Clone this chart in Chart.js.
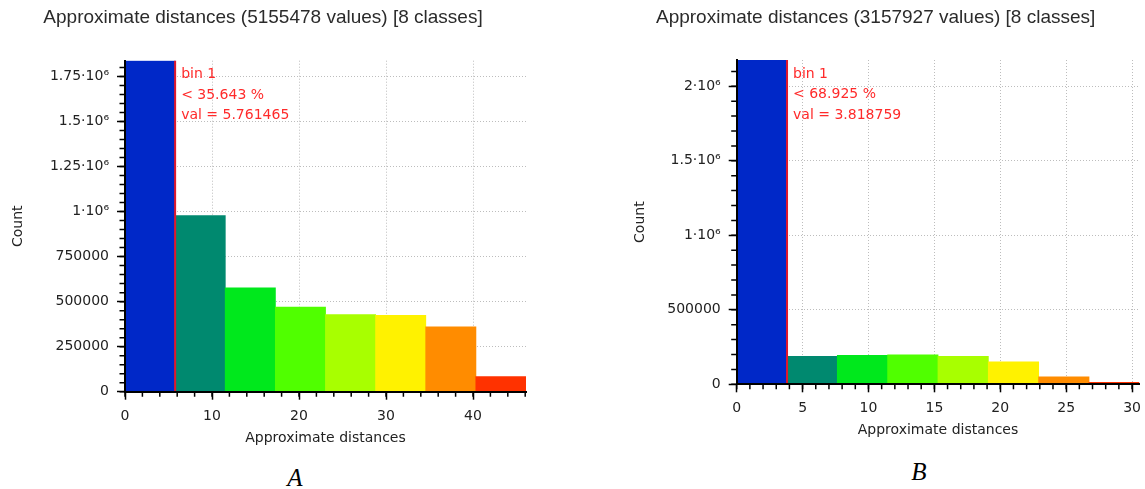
<!DOCTYPE html>
<html>
<head>
<meta charset="utf-8">
<title>Approximate distances</title>
<script src="https://cdn.jsdelivr.net/npm/chart.js@4.4.1/dist/chart.umd.min.js"></script>
<style>
  html, body { margin: 0; padding: 0; background: #fff; }
  body { position: relative; width: 1145px; height: 489px; overflow: hidden; }
  .panel { position: absolute; top: 0; }
  #panelA { left: 0; width: 528px; height: 450px; }
  #panelB { left: 612px; width: 533px; height: 450px; }
  .tag { position: absolute; width: 40px; text-align: center; font: italic 25px "Liberation Serif", serif; line-height: 25px; color: #000; }
</style>
</head>
<body>
<div class="panel" id="panelA"><canvas id="histA" width="528" height="450"></canvas></div>
<div class="panel" id="panelB"><canvas id="histB" width="533" height="450"></canvas></div>
<div class="tag" style="left:275px;top:465px">A</div>
<div class="tag" style="left:899px;top:459px">B</div>
<script>
// ---- data -------------------------------------------------------------
// Histogram A: 8 classes of equal width
const binWidthA = 5.761465;
const countsA = [1837567, 978000, 576000, 470000, 428000, 423000, 360000, 82911];
const xTicksA = [0, 10, 20, 30, 40];
const yTicksA = [0, 250000, 500000, 750000, 1000000, 1250000, 1500000, 1750000];

// Histogram B: 8 classes of equal width
const binWidthB = 3.818759;
const countsB = [2176601, 188000, 194000, 198000, 188000, 150000, 50000, 13326];
const xTicksB = [0, 5, 10, 15, 20, 25, 30];
const yTicksB = [0, 500000, 1000000, 1500000, 2000000];

// Class colours, low to high distance
const classColors = ['#0028c8', '#00896f', '#00e81c', '#50ff00', '#a8ff00', '#fff200', '#ff8c00', '#ff3200'];

// ---- helpers ----------------------------------------------------------
const TEXT = '#222';
const UI_FONT = '"DejaVu Sans", Verdana, sans-serif';

function formatCount(v) {
  if (v >= 1e6) return (v / 1e6) + '\u00b710\u2076';
  return String(v);
}

function sum(arr) { return arr.reduce((a, b) => a + b, 0); }

function steps(max, step) {
  const out = [];
  for (let v = 0; v <= max + 1e-9; v += step) out.push(+v.toFixed(6));
  return out;
}

// short minor tick marks along both axes
const minorTicks = {
  id: 'minorTicks',
  afterDraw(chart, args, opts) {
    const {ctx} = chart;
    const xs = chart.scales.x, ys = chart.scales.y;
    ctx.save();
    ctx.strokeStyle = '#000';
    ctx.lineWidth = 1.5;
    ctx.beginPath();
    steps(ys.max, opts.yStep).forEach(v => {
      const py = ys.getPixelForValue(v);
      ctx.moveTo(ys.right - 5.5, py);
      ctx.lineTo(ys.right, py);
    });
    steps(xs.max, opts.xStep).forEach(v => {
      const px = xs.getPixelForValue(v);
      ctx.moveTo(px, xs.top);
      ctx.lineTo(px, xs.top + 5);
    });
    ctx.stroke();
    ctx.restore();
  }
};

// red marker at the upper edge of the first class, with its caption
const firstBinMarker = {
  id: 'firstBinMarker',
  afterDatasetsDraw(chart, args, opts) {
    const {ctx, chartArea} = chart;
    const x = chart.scales.x.getPixelForValue(opts.edge);
    ctx.save();
    ctx.strokeStyle = '#e0182c';
    ctx.lineWidth = 2;
    ctx.beginPath();
    ctx.moveTo(x, chartArea.top);
    ctx.lineTo(x, chartArea.bottom);
    ctx.stroke();
    ctx.fillStyle = '#ff2a2a';
    ctx.font = '14px ' + UI_FONT;
    ctx.textBaseline = 'middle';
    ctx.textAlign = 'left';
    opts.lines.forEach((t, i) => ctx.fillText(t, x + 6, chartArea.top + 14 + i * 20.5));
    ctx.restore();
  }
};

function buildHistogram(canvasId, cfg) {
  const total = sum(cfg.counts);
  const nBins = cfg.counts.length;
  const xMax = cfg.binWidth * nBins;
  const share = (cfg.counts[0] / total * 100).toFixed(3);

  const gridColor = c => (c.tick && c.tick.value === 0) ? 'rgba(0,0,0,0)' : '#bdbdbd';

  return new Chart(document.getElementById(canvasId), {
    type: 'bar',
    data: {
      datasets: [{
        data: cfg.counts.map((c, i) => ({x: (i + 0.5) * cfg.binWidth, y: c})),
        backgroundColor: classColors,
        borderWidth: 0,
        barPercentage: 1,
        categoryPercentage: 1,
        inflateAmount: 0.4
      }]
    },
    options: {
      responsive: false,
      animation: false,
      devicePixelRatio: 1,
      layout: { padding: { left: 0, right: cfg.padRight, top: 0, bottom: 0 } },
      plugins: {
        legend: { display: false },
        tooltip: { enabled: false },
        title: {
          display: true,
          text: 'Approximate distances (' + total + ' values) [' + nBins + ' classes]',
          color: '#2b2b2b',
          font: { family: '"Liberation Sans", Arial, sans-serif', size: 19, weight: 'normal', lineHeight: 1.2 },
          padding: { top: 6.6, bottom: cfg.titleGap }
        },
        minorTicks: { xStep: cfg.xMinor, yStep: cfg.yMinor },
        firstBinMarker: {
          edge: cfg.binWidth,
          lines: ['bin 1', '< ' + share + ' %', 'val = ' + cfg.binWidth.toFixed(6)]
        }
      },
      scales: {
        x: {
          type: 'linear',
          min: 0,
          max: xMax,
          offset: false,
          afterBuildTicks: s => { s.ticks = cfg.xTicks.map(v => ({value: v})); },
          afterFit: s => { s.height = cfg.xAxisHeight; s.paddingLeft = 0; s.paddingRight = 0; },
          grid: {
            offset: false,
            color: gridColor,
            lineWidth: 1,
            tickColor: '#000',
            tickWidth: 1.5,
            tickLength: 8
          },
          border: { display: true, color: '#000', width: 2, dash: [1, 2], z: 1 },
          ticks: {
            color: TEXT,
            padding: 8,
            maxRotation: 0,
            autoSkip: false,
            font: { family: UI_FONT, size: 14 },
            callback: v => String(v)
          },
          title: {
            display: true,
            text: 'Approximate distances',
            color: TEXT,
            font: { family: UI_FONT, size: 14, lineHeight: 1.2 },
            padding: { top: 0, bottom: cfg.xTitlePad }
          }
        },
        y: {
          type: 'linear',
          min: 0,
          max: cfg.counts[0],
          afterBuildTicks: s => { s.ticks = cfg.yTicks.map(v => ({value: v})); },
          afterFit: s => { s.width = cfg.yAxisWidth; s.paddingTop = 0; s.paddingBottom = 0; },
          grid: {
            color: gridColor,
            lineWidth: 1,
            tickColor: '#000',
            tickWidth: 1.5,
            tickLength: 8
          },
          border: { display: true, color: '#000', width: 2, dash: [1, 2], z: 1 },
          ticks: {
            color: TEXT,
            padding: 8,
            autoSkip: false,
            font: { family: UI_FONT, size: 14 },
            callback: v => formatCount(v)
          },
          title: {
            display: true,
            text: 'Count',
            color: TEXT,
            font: { family: UI_FONT, size: 14, lineHeight: 1.2 },
            padding: { top: cfg.yTitlePad, bottom: 0 }
          }
        }
      }
    },
    plugins: [minorTicks, firstBinMarker]
  });
}

buildHistogram('histA', {
  counts: countsA, binWidth: binWidthA, xTicks: xTicksA, yTicks: yTicksA,
  xMinor: 2, yMinor: 50000,
  padRight: 2, titleGap: 31.3, xAxisHeight: 58.3, xTitlePad: 3.1,
  yAxisWidth: 125, yTitlePad: 9.6
});

buildHistogram('histB', {
  counts: countsB, binWidth: binWidthB, xTicks: xTicksB, yTicks: yTicksB,
  xMinor: 1, yMinor: 100000,
  padRight: 5.7, titleGap: 30.6, xAxisHeight: 65.7, xTitlePad: 11.1,
  yAxisWidth: 124.7, yTitlePad: 19.6
});
</script>
</body>
</html>
